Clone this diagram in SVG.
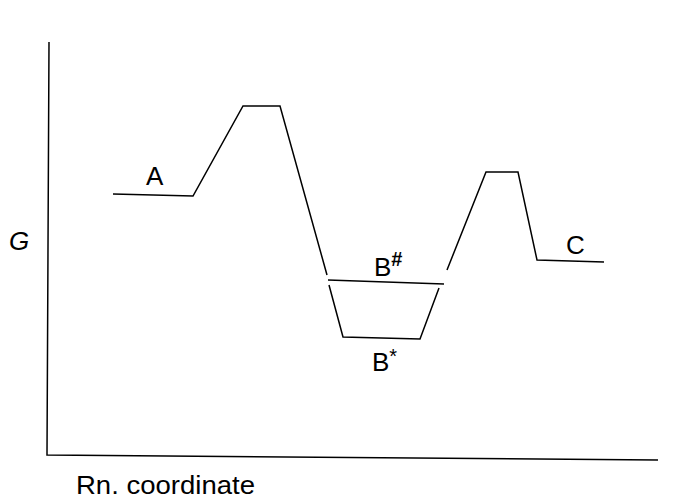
<svg xmlns="http://www.w3.org/2000/svg" width="673" height="499" viewBox="0 0 673 499">
<style>
.ln{fill:none;stroke:#000;stroke-width:1.5;stroke-linejoin:miter}
.t{font-family:"Liberation Sans",Arial,sans-serif;font-size:26px;fill:#000}
.sup{font-size:20px}
</style>
<rect width="673" height="499" fill="#fff"/>
<g id="axes">
<polyline class="ln" points="49,42 47,455 658,460"/>
<text class="t" x="9" y="250" font-style="italic">G</text>
<text class="t" x="76" y="494" textLength="179" lengthAdjust="spacingAndGlyphs">Rn. coordinate</text>
</g>
<g id="connectors">
<polyline class="ln" points="113,194 193,196 243,106 280,106 327,275"/>
<polyline class="ln" points="329,285 343,337 420,339 439,288"/>
<polyline class="ln" points="447,270 486,172 518,172 537,260 604,262"/>
</g>
<g id="A"><text class="t" x="146" y="185">A</text></g>
<g id="Bhash"><line class="ln" x1="328" y1="280" x2="444" y2="284"/><text class="t" x="374" y="276">B<tspan class="sup" font-weight="bold" dy="-10">#</tspan></text></g>
<g id="Bstar"><text class="t" x="372" y="371">B<tspan class="sup" font-size="24" dy="-8">*</tspan></text></g>
<g id="C"><text class="t" x="566" y="254">C</text></g>
</svg>
